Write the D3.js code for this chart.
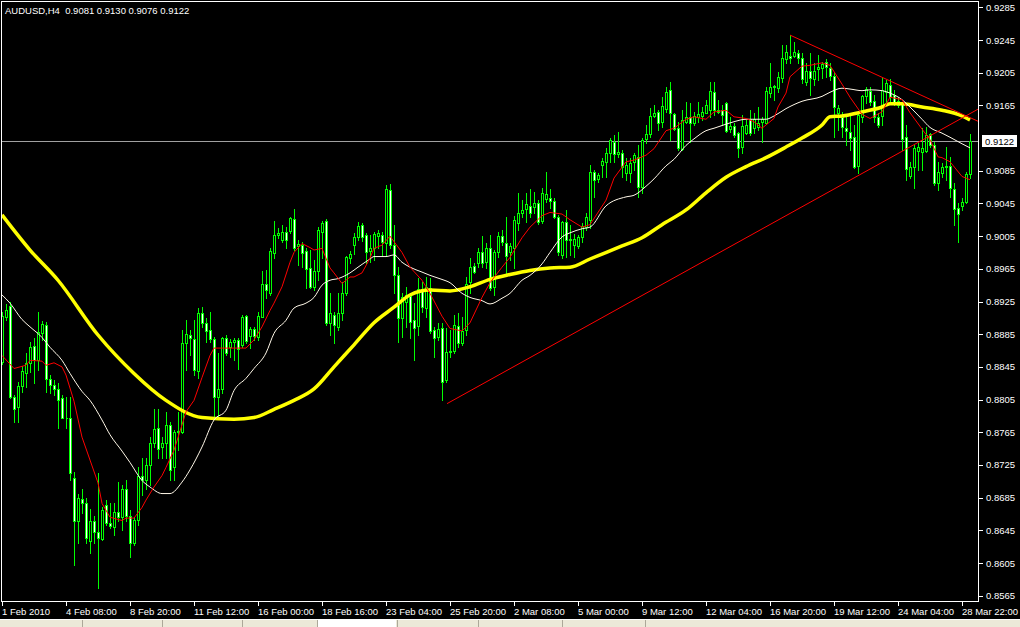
<!DOCTYPE html>
<html><head><meta charset="utf-8">
<script src="https://cdn.jsdelivr.net/npm/d3@7"></script>
<style>html,body{margin:0;padding:0;background:#000;overflow:hidden}svg{display:block}</style>
</head><body>
<svg id="c" width="1020" height="627"></svg>
<script>
const symbol = "AUDUSD,H4";

const open = [
0.8851,0.8906,0.8919,0.8808,0.8796,0.8821,0.8837,0.8850,0.8870,0.8853,
0.8886,0.8896,0.8830,0.8823,0.8818,0.8807,0.8783,0.8783,0.8709,0.8657,
0.8683,0.8679,0.8632,0.8656,0.8643,0.8634,0.8676,0.8654,0.8649,0.8668,
0.8661,0.8695,0.8662,0.8629,0.8658,0.8711,0.8707,0.8725,0.8752,0.8770,
0.8747,0.8752,0.8774,0.8722,0.8765,0.8765,0.8874,0.8884,0.8879,0.8840,
0.8911,0.8899,0.8890,0.8879,0.8808,0.8818,0.8880,0.8869,0.8875,0.8878,
0.8872,0.8907,0.8883,0.8891,0.8881,0.8906,0.8946,0.8936,0.8984,0.9006,
0.9000,0.9010,0.9011,0.9026,0.8993,0.8994,0.8987,0.8966,0.8943,0.8962,
0.9010,0.9023,0.8899,0.8908,0.8894,0.8911,0.8935,0.8978,0.8994,0.9004,
0.9019,0.9006,0.8987,0.8991,0.9005,0.9006,0.8996,0.9061,0.8994,0.8957,
0.8905,0.8924,0.8932,0.8902,0.8895,0.8940,0.8917,0.8941,0.8890,0.8881,
0.8892,0.8829,0.8863,0.8865,0.8895,0.8874,0.8890,0.8949,0.8968,0.8972,
0.8985,0.8973,0.8991,0.8943,0.8985,0.9005,0.8996,0.8985,0.8991,0.9021,
0.9033,0.9038,0.9042,0.9041,0.9045,0.9023,0.9050,0.9052,0.9048,0.9028,
0.8982,0.9022,0.9000,0.8994,0.8993,0.9004,0.9016,0.9025,0.9083,0.9075,
0.9092,0.9096,0.9107,0.9120,0.9105,0.9107,0.9082,0.9082,0.9096,0.9102,
0.9065,0.9124,0.9130,0.9152,0.9157,0.9145,0.9161,0.9184,0.9154,0.9137,
0.9112,0.9145,0.9151,0.9144,0.9151,0.9152,0.9156,0.9159,0.9181,0.9159,
0.9159,0.9168,0.9136,0.9140,0.9131,0.9114,0.9131,0.9148,0.9137,0.9139,
0.9145,0.9144,0.9180,0.9187,0.9186,0.9198,0.9222,0.9226,0.9226,0.9229,
0.9223,0.9194,0.9207,0.9197,0.9210,0.9211,0.9218,0.9211,0.9201,0.9156,
0.9151,0.9137,0.9132,0.9126,0.9091,0.9151,0.9176,0.9183,0.9170,0.9151,
0.9152,0.9181,0.9190,0.9178,0.9165,0.9168,0.9126,0.9078,0.9090,0.9109,
0.9108,0.9109,0.9130,0.9116,0.9070,0.9082,0.9090,0.9091,0.9063,0.9039,
0.9042,0.9047,0.9081];

const high = [
0.8912,0.8922,0.8924,0.8810,0.8826,0.8846,0.8862,0.8875,0.8880,0.8912,
0.8901,0.8900,0.8835,0.8829,0.8825,0.8810,0.8808,0.8808,0.8716,0.8690,
0.8695,0.8685,0.8671,0.8662,0.8715,0.8673,0.8682,0.8679,0.8679,0.8704,
0.8700,0.8707,0.8670,0.8661,0.8722,0.8733,0.8734,0.8759,0.8794,0.8794,
0.8759,0.8790,0.8777,0.8768,0.8790,0.8890,0.8902,0.8890,0.8902,0.8917,
0.8918,0.8905,0.8912,0.8881,0.8862,0.8881,0.8884,0.8879,0.8880,0.8880,
0.8908,0.8908,0.8894,0.8894,0.8912,0.8962,0.8963,0.8990,0.9023,0.9015,
0.9019,0.9016,0.9028,0.9038,0.9000,0.8998,0.8991,0.8988,0.8976,0.9016,
0.9023,0.9026,0.8935,0.8912,0.8935,0.8949,0.8981,0.8987,0.9009,0.9022,
0.9021,0.9009,0.9006,0.9010,0.9012,0.9010,0.9068,0.9069,0.9019,0.8967,
0.8935,0.8943,0.8936,0.8923,0.8954,0.8949,0.8955,0.8954,0.8894,0.8899,
0.8899,0.8892,0.8890,0.8908,0.8911,0.8906,0.8955,0.8978,0.8972,0.8990,
0.9005,0.8996,0.9006,0.8988,0.9010,0.9012,0.9028,0.8996,0.9030,0.9058,
0.9049,0.9058,0.9063,0.9059,0.9049,0.9064,0.9083,0.9063,0.9052,0.9031,
0.9023,0.9037,0.9019,0.9007,0.9006,0.9021,0.9033,0.9092,0.9086,0.9082,
0.9101,0.9113,0.9125,0.9129,0.9132,0.9110,0.9101,0.9101,0.9107,0.9116,
0.9125,0.9141,0.9162,0.9165,0.9159,0.9175,0.9187,0.9194,0.9156,0.9145,
0.9159,0.9169,0.9168,0.9157,0.9169,0.9163,0.9172,0.9194,0.9194,0.9172,
0.9165,0.9169,0.9151,0.9144,0.9132,0.9153,0.9147,0.9159,0.9156,0.9163,
0.9151,0.9187,0.9217,0.9190,0.9206,0.9239,0.9239,0.9251,0.9243,0.9233,
0.9229,0.9217,0.9229,0.9217,0.9227,0.9218,0.9222,0.9217,0.9206,0.9165,
0.9157,0.9153,0.9152,0.9141,0.9156,0.9178,0.9187,0.9187,0.9178,0.9156,
0.9198,0.9196,0.9197,0.9184,0.9175,0.9169,0.9141,0.9096,0.9116,0.9119,
0.9137,0.9139,0.9131,0.9120,0.9096,0.9094,0.9114,0.9102,0.9070,0.9045,
0.9052,0.9083,0.9130];

const low = [
0.8848,0.8902,0.8807,0.8777,0.8777,0.8814,0.8820,0.8839,0.8825,0.8841,
0.8878,0.8814,0.8813,0.8810,0.8770,0.8782,0.8770,0.8706,0.8602,0.8630,
0.8666,0.8629,0.8617,0.8629,0.8574,0.8633,0.8651,0.8648,0.8639,0.8657,
0.8645,0.8657,0.8612,0.8627,0.8651,0.8688,0.8696,0.8700,0.8747,0.8733,
0.8733,0.8734,0.8706,0.8706,0.8743,0.8764,0.8841,0.8859,0.8835,0.8832,
0.8894,0.8875,0.8875,0.8783,0.8783,0.8813,0.8859,0.8857,0.8853,0.8843,
0.8869,0.8874,0.8868,0.8878,0.8878,0.8906,0.8929,0.8933,0.8978,0.9003,
0.8998,0.8990,0.9009,0.8988,0.8970,0.8967,0.8941,0.8941,0.8939,0.8951,
0.8978,0.8896,0.8884,0.8874,0.8890,0.8902,0.8933,0.8972,0.8983,0.9000,
0.8999,0.8972,0.8973,0.8976,0.8991,0.8982,0.8982,0.8990,0.8936,0.8875,
0.8881,0.8894,0.8880,0.8853,0.8884,0.8912,0.8906,0.8886,0.8857,0.8878,
0.8804,0.8826,0.8857,0.8862,0.8869,0.8872,0.8884,0.8935,0.8960,0.8967,
0.8967,0.8966,0.8939,0.8933,0.8980,0.8994,0.8957,0.8976,0.8966,0.9012,
0.9028,0.9022,0.9028,0.9033,0.9020,0.9021,0.9047,0.9039,0.9027,0.8982,
0.8978,0.8980,0.8982,0.8980,0.8990,0.8998,0.9012,0.9015,0.9053,0.9071,
0.9077,0.9077,0.9096,0.9096,0.9102,0.9077,0.9074,0.9071,0.9086,0.9053,
0.9058,0.9119,0.9126,0.9151,0.9135,0.9139,0.9157,0.9123,0.9135,0.9110,
0.9110,0.9143,0.9120,0.9141,0.9145,0.9147,0.9156,0.9151,0.9153,0.9156,
0.9141,0.9132,0.9132,0.9126,0.9102,0.9107,0.9130,0.9129,0.9131,0.9135,
0.9120,0.9142,0.9175,0.9172,0.9181,0.9194,0.9217,0.9217,0.9224,0.9217,
0.9192,0.9190,0.9178,0.9190,0.9196,0.9198,0.9200,0.9196,0.9126,0.9135,
0.9126,0.9116,0.9110,0.9088,0.9082,0.9145,0.9168,0.9165,0.9145,0.9139,
0.9141,0.9169,0.9168,0.9165,0.9163,0.9110,0.9074,0.9076,0.9064,0.9086,
0.9086,0.9108,0.9114,0.9067,0.9061,0.9077,0.9074,0.9053,0.9019,0.8998,
0.9037,0.9045,0.9076];

const close = [
0.8907,0.8914,0.8808,0.8794,0.8821,0.8840,0.8850,0.8869,0.8853,0.8888,
0.8897,0.8830,0.8823,0.8818,0.8805,0.8783,0.8782,0.8715,0.8657,0.8684,
0.8679,0.8635,0.8656,0.8643,0.8635,0.8670,0.8654,0.8650,0.8668,0.8661,
0.8696,0.8662,0.8629,0.8658,0.8712,0.8707,0.8725,0.8752,0.8769,0.8745,
0.8752,0.8774,0.8719,0.8765,0.8766,0.8874,0.8885,0.8880,0.8841,0.8911,
0.8899,0.8889,0.8879,0.8808,0.8818,0.8880,0.8862,0.8875,0.8878,0.8867,
0.8906,0.8877,0.8891,0.8883,0.8907,0.8946,0.8939,0.8987,0.9006,0.9009,
0.9010,0.9000,0.9027,0.8991,0.8995,0.8984,0.8965,0.8943,0.8962,0.9012,
0.9021,0.8899,0.8911,0.8896,0.8911,0.8935,0.8979,0.8983,0.9004,0.9017,
0.9004,0.8985,0.8990,0.9008,0.9009,0.8998,0.9063,0.8994,0.8957,0.8905,
0.8930,0.8933,0.8900,0.8892,0.8940,0.8918,0.8943,0.8889,0.8880,0.8891,
0.8827,0.8863,0.8865,0.8896,0.8874,0.8889,0.8947,0.8967,0.8961,0.8985,
0.8972,0.8991,0.8941,0.8985,0.9005,0.8998,0.8981,0.8993,0.9025,0.9033,
0.9037,0.9044,0.9033,0.9045,0.9022,0.9058,0.9057,0.9048,0.9028,0.8985,
0.9022,0.9000,0.9001,0.9001,0.9004,0.9017,0.9028,0.9083,0.9074,0.9080,
0.9097,0.9107,0.9123,0.9105,0.9108,0.9090,0.9092,0.9094,0.9104,0.9065,
0.9123,0.9130,0.9152,0.9156,0.9144,0.9164,0.9181,0.9156,0.9136,0.9113,
0.9147,0.9151,0.9144,0.9152,0.9154,0.9157,0.9165,0.9182,0.9159,0.9157,
0.9153,0.9134,0.9140,0.9129,0.9113,0.9140,0.9141,0.9131,0.9148,0.9144,
0.9148,0.9182,0.9187,0.9189,0.9200,0.9223,0.9230,0.9223,0.9230,0.9223,
0.9197,0.9207,0.9198,0.9207,0.9212,0.9216,0.9212,0.9201,0.9163,0.9162,
0.9139,0.9134,0.9125,0.9090,0.9153,0.9176,0.9185,0.9169,0.9151,0.9141,
0.9184,0.9192,0.9175,0.9168,0.9170,0.9124,0.9087,0.9090,0.9113,0.9114,
0.9113,0.9129,0.9116,0.9070,0.9083,0.9090,0.9091,0.9064,0.9038,0.9032,
0.9047,0.9081,0.9122];

// Moving averages (bar index, value)
const maSlowBars = [0,7,14,24,33,41,50,58,63,68,73,78,83,88,93,98,102,107,112,117,122,127,132,137,142,147,155,160,165,171,176,181,186,191,196,200,205,207,210,215,220,222,225,230,235,240,242];
const maSlowVals = [0.9031,0.8988,0.8951,0.8884,0.8837,0.8804,0.8783,0.8781,0.8783,0.8793,0.8804,0.8818,0.8845,0.8872,0.8899,0.8918,0.8933,0.8939,0.8938,0.8943,0.8952,0.8958,0.8963,0.8966,0.8967,0.8977,0.8993,0.9003,0.9019,0.9037,0.9058,0.9077,0.9090,0.9101,0.9114,0.9125,0.9141,0.9151,0.9152,0.9157,0.9163,0.9167,0.9167,0.9163,0.9159,0.9152,0.9147];

const maMidBars = [0,2,5,7,10,12,15,17,20,22,25,27,30,32,35,37,40,42,45,47,50,53,56,58,61,63,66,68,71,73,76,78,80,82,84,87,89,92,93,96,98,100,102,105,107,110,112,115,117,120,122,125,127,130,132,135,137,140,142,145,147,151,156,158,161,163,166,168,171,173,176,178,181,183,186,191,193,196,200,205,207,210,212,215,217,220,222,225,227,230,232,235,237,240,242];
const maMidVals = [0.8933,0.8923,0.8903,0.8894,0.8881,0.8869,0.8853,0.8837,0.8815,0.8804,0.8780,0.8762,0.8742,0.8728,0.8706,0.8698,0.8690,0.8690,0.8704,0.8719,0.8747,0.8780,0.8792,0.8816,0.8831,0.8843,0.8862,0.8886,0.8902,0.8917,0.8923,0.8930,0.8945,0.8951,0.8953,0.8960,0.8967,0.8977,0.8980,0.8980,0.8982,0.8973,0.8967,0.8961,0.8957,0.8952,0.8948,0.8935,0.8930,0.8926,0.8922,0.8929,0.8935,0.8951,0.8957,0.8971,0.8985,0.9004,0.9009,0.9014,0.9016,0.9042,0.9053,0.9055,0.9066,0.9075,0.9091,0.9099,0.9116,0.9124,0.9134,0.9137,0.9142,0.9145,0.9148,0.9148,0.9152,0.9161,0.9170,0.9176,0.9181,0.9186,0.9185,0.9183,0.9184,0.9183,0.9180,0.9172,0.9163,0.9148,0.9138,0.9131,0.9126,0.9118,0.9113];

const maFastBars = [0,3,6,7,10,11,13,15,16,18,20,22,24,25,27,30,31,33,35,36,38,40,41,43,45,46,48,50,52,53,55,59,61,63,65,67,68,70,72,73,75,77,78,80,82,83,85,87,88,90,92,93,95,97,100,102,105,107,110,112,115,117,120,122,125,127,130,132,135,137,140,142,145,147,151,153,156,158,161,163,166,168,171,173,176,178,181,183,186,188,190,193,194,196,197,200,202,205,207,210,212,215,217,220,222,225,227,230,232,234,235,237,240,242];
const maFastVals = [0.8859,0.8843,0.8847,0.8853,0.8852,0.8847,0.8850,0.8845,0.8835,0.8803,0.8759,0.8731,0.8703,0.8678,0.8661,0.8657,0.8660,0.8660,0.8673,0.8682,0.8698,0.8712,0.8722,0.8743,0.8774,0.8790,0.8804,0.8832,0.8859,0.8868,0.8868,0.8868,0.8868,0.8878,0.8894,0.8914,0.8923,0.8943,0.8973,0.8985,0.8996,0.8991,0.8988,0.8990,0.8966,0.8960,0.8947,0.8955,0.8955,0.8960,0.8978,0.8990,0.8994,0.9005,0.8985,0.8967,0.8951,0.8935,0.8907,0.8892,0.8889,0.8899,0.8930,0.8948,0.8967,0.8979,0.9003,0.9016,0.9030,0.9034,0.9032,0.9025,0.9016,0.9019,0.9049,0.9076,0.9096,0.9098,0.9104,0.9112,0.9134,0.9137,0.9148,0.9151,0.9148,0.9157,0.9159,0.9151,0.9149,0.9145,0.9137,0.9149,0.9163,0.9180,0.9200,0.9213,0.9214,0.9217,0.9214,0.9191,0.9175,0.9154,0.9149,0.9157,0.9175,0.9172,0.9156,0.9136,0.9123,0.9102,0.9101,0.9096,0.9078,0.9074];

// Hand-drawn trendlines: [bar, price] anchor pairs
const trendUp = [[111.25, 0.8800], [244.25, 0.9161]];
const trendDown = [[197, 0.9251], [244.25, 0.9145]];

const priceTicks = [0.9285,0.9245,0.9205,0.9165,0.9085,0.9045,0.9005,0.8965,0.8925,0.8885,0.8845,0.8805,0.8765,0.8725,0.8685,0.8645,0.8605,0.8565];
const timeTickBars = [0,16,32,48,64,80,96,112,128,144,160,176,192,208,224,240];
const timeLabels = ["1 Feb 2010","4 Feb 08:00","8 Feb 20:00","11 Feb 12:00","16 Feb 00:00","18 Feb 16:00","23 Feb 04:00","25 Feb 20:00","2 Mar 08:00","5 Mar 00:00","9 Mar 12:00","12 Mar 04:00","16 Mar 20:00","19 Mar 12:00","24 Mar 04:00","28 Mar 22:00"];

const FONT = "'Liberation Sans', Arial, sans-serif";
const svg = d3.select('#c');
svg.append('rect').attr('width',1020).attr('height',627).attr('fill','#000');

const x = d3.scaleLinear().domain([0, 242]).range([2, 970]);
const y = d3.scaleLinear().domain([0.8565, 0.9285]).range([595.7, 7.3]);

svg.append('defs').append('clipPath').attr('id','plot')
  .append('rect').attr('x',1).attr('y',2).attr('width',978).attr('height',600);

const plot = svg.append('g').attr('clip-path','url(#plot)');

// current price line
const last = close.length - 1;
const py = Math.round(y(close[last])) + 0.5;
plot.append('line').attr('x1',1).attr('x2',979).attr('y1',py).attr('y2',py)
  .attr('stroke','#a0a0a0').attr('stroke-width',1).attr('shape-rendering','crispEdges');

// candles
const bars = d3.range(open.length).map(i => ({i, o:open[i], h:high[i], l:low[i], c:close[i]}));
const cg = plot.append('g').attr('shape-rendering','crispEdges');
cg.selectAll('line.wick').data(bars).join('line').attr('class','wick')
  .attr('x1', d => Math.round(x(d.i)) + 0.5).attr('x2', d => Math.round(x(d.i)) + 0.5)
  .attr('y1', d => Math.round(y(d.h))).attr('y2', d => Math.round(y(d.l)) + 1)
  .attr('stroke','#00ff00').attr('stroke-width',1);
cg.selectAll('path.body').data(bars).join('path').attr('class','body')
  .attr('d', d => {
    const cx = Math.round(x(d.i));
    const t = Math.round(y(Math.max(d.o, d.c)));
    const b = Math.round(y(Math.min(d.o, d.c)));
    return `M${cx-0.5},${t+0.5}h2v${Math.max(0,b-t)}h-2Z`;
  })
  .attr('fill', d => d.c >= d.o ? '#000' : '#fff')
  .attr('stroke','#00ff00').attr('stroke-width',1);

// moving averages
const mkLine = (curve) => d3.line().x(d => x(d[0])).y(d => y(d[1])).curve(curve);
const zip = (a, b) => a.map((v, k) => [v, b[k]]);
plot.append('path').datum(zip(maSlowBars, maSlowVals))
  .attr('d', mkLine(d3.curveMonotoneX)).attr('fill','none').attr('stroke','#ffff00').attr('stroke-width',3.5);
plot.append('path').datum(zip(maMidBars, maMidVals))
  .attr('d', mkLine(d3.curveMonotoneX)).attr('fill','none').attr('stroke','#fff8e8').attr('stroke-width',1);
plot.append('path').datum(zip(maFastBars, maFastVals))
  .attr('d', mkLine(d3.curveLinear)).attr('fill','none').attr('stroke','#ff0000').attr('stroke-width',1);

// trendlines
[trendUp, trendDown].forEach(t => {
  plot.append('path').datum(t).attr('d', mkLine(d3.curveLinear))
    .attr('fill','none').attr('stroke','#ff0000').attr('stroke-width',1);
});

// frame
svg.append('rect').attr('x',1.5).attr('y',1.5).attr('width',977).attr('height',600)
  .attr('fill','none').attr('stroke','#fff').attr('stroke-width',1).attr('shape-rendering','crispEdges');

// right price axis
const ay = svg.append('g').attr('transform','translate(979,0)')
  .call(d3.axisRight(y).tickValues(priceTicks).tickSize(4).tickPadding(3).tickFormat(d3.format('.4f')));
ay.select('.domain').remove();
ay.selectAll('line').attr('stroke','#fff').attr('shape-rendering','crispEdges');
ay.selectAll('text').attr('fill','#fff').attr('font-family',FONT).attr('font-size','9.5px');

// current price box
svg.append('rect').attr('x',982).attr('y',py-6.5).attr('width',35).attr('height',12).attr('fill','#fff');
svg.append('text').attr('x',985).attr('y',py+3.5).attr('fill','#000')
  .attr('font-family',FONT).attr('font-size','9.5px').text(d3.format('.4f')(close[last]));

// bottom time axis
const ax = svg.append('g').attr('transform','translate(0,602)')
  .call(d3.axisBottom(x).tickValues(timeTickBars).tickSize(4).tickFormat((d,k) => timeLabels[k]));
ax.select('.domain').remove();
ax.selectAll('line').attr('stroke','#fff').attr('shape-rendering','crispEdges');
ax.selectAll('text').attr('fill','#fff').attr('font-family',FONT).attr('font-size','9.5px')
  .attr('text-anchor','start').attr('x',-0.5).attr('y',6).attr('dy','0.71em');

// title
svg.append('text').attr('x',5).attr('y',13.5).attr('fill','#fff')
  .attr('font-family',FONT).attr('font-size','9.5px').style('white-space','pre')
  .text(`${symbol}  ${d3.format('.4f')(open[last])} ${d3.format('.4f')(high[last])} ${d3.format('.4f')(low[last])} ${d3.format('.4f')(close[last])}`);

// window tab strip
const strip = svg.append('g').attr('shape-rendering','crispEdges');
strip.append('rect').attr('x',0).attr('y',619).attr('width',1020).attr('height',8).attr('fill','#ece9d8');
strip.append('line').attr('x1',0).attr('x2',1020).attr('y1',619.5).attr('y2',619.5).attr('stroke','#ffffff');
strip.append('rect').attr('x',318).attr('y',620).attr('width',78).attr('height',7).attr('fill','#ffffff');
[82,162,242,317,397,478,562,645].forEach(d => {
  strip.append('line').attr('x1',d+0.5).attr('x2',d+0.5).attr('y1',620).attr('y2',627).attr('stroke','#aca899');
});
</script>
</body></html>
